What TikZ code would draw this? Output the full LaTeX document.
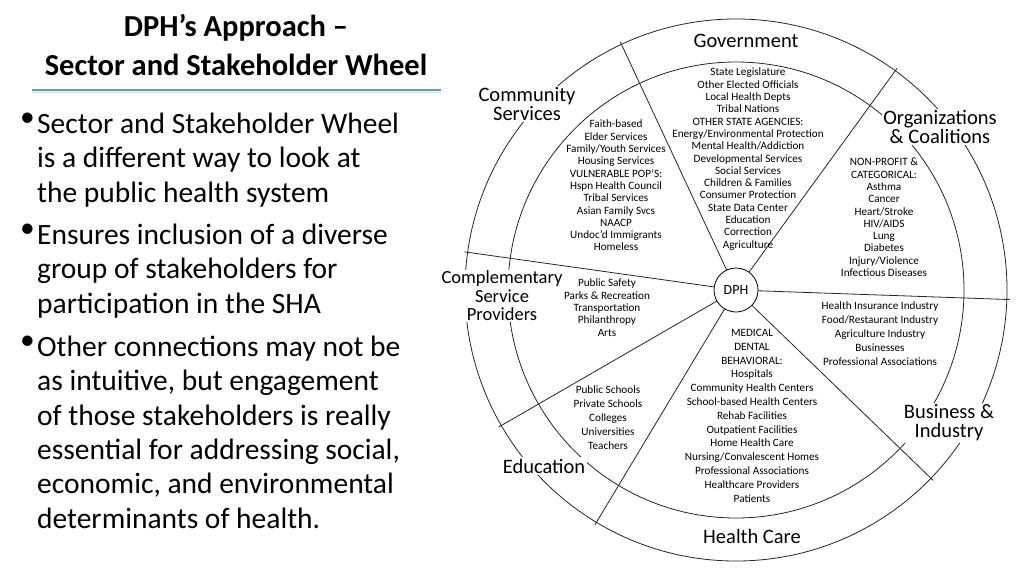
\documentclass[tikz,border=0pt]{standalone}
\usepackage{fontspec}
\setmainfont{Carlito}
\usetikzlibrary{calc}
\begin{document}
\begin{tikzpicture}[x=1pt,y=-1pt,
  lst/.style={align=center,font=\fontsize{11.2}{12.3}\selectfont,inner sep=0pt},
  lst2/.style={align=center,font=\fontsize{11.2}{13.8}\selectfont,inner sep=0pt},
  lab/.style={align=center,font=\fontsize{20.5}{19}\selectfont,fill=white,inner sep=1.5pt},
  bul/.style={anchor=north west,align=left,font=\fontsize{29.5}{34.3}\selectfont,inner sep=0pt},
  wl/.style={line width=0.8pt,draw=black!85}]
\useasboundingbox (0,0) rectangle (1024,576);
% left panel
\node[font=\bfseries\fontsize{30.5}{39}\selectfont,align=center] (title) at (236,45) {DPH’s Approach –\\Sector and Stakeholder Wheel};
\fill[black!15] (32,91.5) rectangle (441,93);
\draw[line width=1.8pt,color={rgb,255:red,91;green,155;blue,213}] (32,90) -- (441,90);
\node[bul] (b1) at (20,113) {•};
\node[bul] (t1) at (37,113) {Sector and Stakeholder Wheel\\is a different way to look at\\the public health system};
\node[bul] (b2) at (20,224) {•};
\node[bul] (t2) at (37,224) {Ensures inclusion of a diverse\\group of stakeholders for\\participation in the SHA};
\node[bul] (b3) at (20,336) {•};
\node[bul] (t3) at (37,336) {Other connections may not be\\as intuitive, but engagement\\of those stakeholders is really\\essential for addressing social,\\economic, and environmental\\determinants of health.};
% wheel
\coordinate (c) at (736,290);
\draw[wl] (c) circle[radius=271];
\draw[wl] (c) circle[radius=228];
\foreach \a in {115,54,-2,-44,-121,210,172}{
  \draw[wl] ($(c)+({22*cos(\a)},{-22*sin(\a)})$) -- ($(c)+({274*cos(\a)},{-274*sin(\a)})$);
}
\node[draw,circle,minimum size=44,inner sep=0pt,fill=white,line width=0.8pt,font=\fontsize{14}{15}\selectfont] (dph) at (c) {DPH};
% sector labels
\node[lab] (gov) at (746,41) {Government};
\node[lab] (com) at (527,104) {Community\\Services};
\node[lab] (org) at (940,127) {Organizations\\\& Coalitions};
\node[lab,font=\fontsize{18.5}{18.5}\selectfont] (cmp) at (502,296) {Complementary\\Service\\Providers};
\node[lab] (edu) at (544,466) {Education};
\node[lab] (bus) at (949,423) {Business \&\\Industry};
\node[lab] (hc) at (752,536) {Health Care};
% lists
\node[lst,anchor=north] (gl) at (748,68) {State Legislature\\Other Elected Officials\\Local Health Depts\\Tribal Nations\\OTHER STATE AGENCIES:\\Energy/Environmental Protection\\Mental Health/Addiction\\Developmental Services\\Social Services\\Children \& Families\\Consumer Protection\\State Data Center\\Education\\Correction\\Agriculture};
\node[lst,anchor=north] (cl) at (616,120) {Faith-based\\Elder Services\\Family/Youth Services\\Housing Services\\VULNERABLE POP’S:\\Hspn Health Council\\Tribal Services\\Asian Family Svcs\\NAACP\\Undoc’d Immigrants\\Homeless};
\node[lst,anchor=north] (nl) at (884,158) {NON-PROFIT \&\\CATEGORICAL:\\Asthma\\Cancer\\Heart/Stroke\\HIV/AIDS\\Lung\\Diabetes\\Injury/Violence\\Infectious Diseases};
\node[lst,anchor=north] (pl) at (607,279) {Public Safety\\Parks \& Recreation\\Transportation\\Philanthropy\\Arts};
\node[lst2,anchor=north] (bl) at (880,302) {Health Insurance Industry\\Food/Restaurant Industry\\Agriculture Industry\\Businesses\\Professional Associations};
\node[lst2,anchor=north] (el) at (608,386) {Public Schools\\Private Schools\\Colleges\\Universities\\Teachers};
\node[lst2,anchor=north] (hl) at (752,329) {MEDICAL\\DENTAL\\BEHAVIORAL:\\Hospitals\\Community Health Centers\\School-based Health Centers\\Rehab Facilities\\Outpatient Facilities\\Home Health Care\\Nursing/Convalescent Homes\\Professional Associations\\Healthcare Providers\\Patients};
\end{tikzpicture}
\end{document}
